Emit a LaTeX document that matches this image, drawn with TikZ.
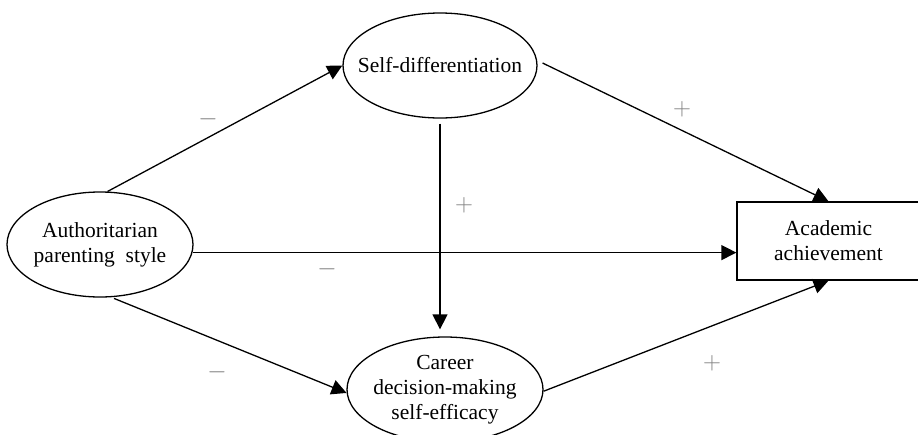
\documentclass[tikz,border=0pt]{standalone}
\usepackage{fontspec}
\setmainfont{Liberation Serif}
\usetikzlibrary{positioning,shapes,arrows.meta}

\begin{document}
\begin{tikzpicture}[x=1pt,y=-1pt,
	txt/.style={align=center,inner sep=0pt,font=\fontsize{21.5}{25}\selectfont},
	oval/.style={ellipse,draw,line width=1.3pt,inner sep=0pt,minimum width=#1,minimum height=105pt},
	box/.style={rectangle,draw,line width=1.3pt,inner sep=0pt,minimum width=183pt,minimum height=78pt,txt},
	arr/.style={line width=1.3pt,-{Triangle[length=15pt,width=15pt]}},
	sign/.style={text=gray,font=\fontsize{27}{27}\selectfont,inner sep=0pt}]
	\useasboundingbox (0,0) rectangle (918,434);

	\node[oval=186pt,label={[txt]center:Authoritarian\\parenting\ \ style}] (auth) at (100,244.5) {};
	\node[oval=194pt,label={[txt]center:Self-differentiation}] (self) at (440,65.5) {};
	\node[oval=196pt,label={[txt]center:Career\\decision-making\\self-efficacy}] (career) at (445,389.5) {};
	\node[box] (acad) at (828.5,241) {Academic\\achievement};

	\draw[arr] (auth.82) -- (self.west);
	\draw[arr,shorten <=6pt] (self.3) -- (acad.north);
	\draw[arr,shorten <=5pt,shorten >=7pt] (self.south) -- (self.south |- career.north);
	\draw[arr] (auth.-5.3) -- (auth.-5.3 -| acad.west);
	\draw[arr,shorten <=3pt] (auth.-78) -- (career.182);
	\draw[arr] (career.-1) -- (acad.south);

	% signs of the paths
	\node[sign] (m1) at (208,119) {$-$};
	\node[sign] (p1) at (682,109) {$+$};
	\node[sign] (p2) at (464,205) {$+$};
	\node[sign] (m2) at (327,269) {$-$};
	\node[sign] (m3) at (217,372) {$-$};
	\node[sign] (p3) at (712,363) {$+$};
\end{tikzpicture}
\end{document}
